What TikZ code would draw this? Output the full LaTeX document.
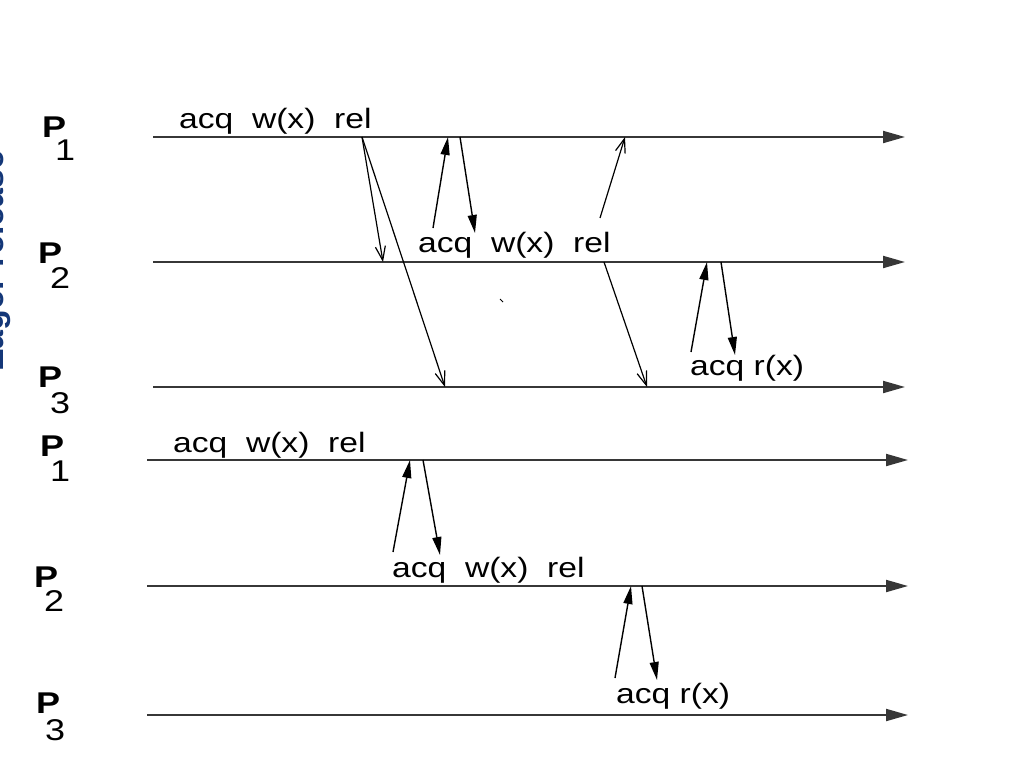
\documentclass[tikz,border=0pt]{standalone}
\usepackage{fontspec}
\setmainfont{Liberation Sans}
\newfontfamily\lbl[FakeStretch=1.2]{Liberation Sans}
\usetikzlibrary{arrows.meta}
\definecolor{navy}{RGB}{20,55,120}
\definecolor{linegray}{RGB}{55,55,55}
\begin{document}
\begin{tikzpicture}[x=1pt,y=-1pt,
  proc/.style={draw=linegray, line width=2pt, -{Triangle[length=22pt,width=12pt]}},
  msgf/.style={draw=black, line width=1.4pt, -{Triangle[length=18pt,width=9pt]}},
  msgo/.style={draw=black, line width=1.2pt, -{Straight Barb[length=14pt,width=10pt]}},
  lab/.style={anchor=base west, inner sep=0pt, font=\lbl\fontsize{28}{28}\selectfont},
  pname/.style={anchor=base west, inner sep=0pt, font=\lbl\bfseries\fontsize{30}{30}\selectfont},
  pidx/.style={anchor=base west, inner sep=0pt, font=\lbl\fontsize{30}{30}\selectfont}]
\useasboundingbox (0,0) rectangle (1024,768);

% side title (clipped)
\node[rotate=90, anchor=base west, inner sep=0pt, text=navy,
      font=\bfseries\fontsize{34}{34}\selectfont] (title) at (4,372) {Eager release};

% ---------- top group ----------
\coordinate (a1s) at (153,137); \coordinate (a1e) at (905,137);
\coordinate (a2s) at (153,262); \coordinate (a2e) at (905,262);
\coordinate (a3s) at (153,387); \coordinate (a3e) at (905,387);
\draw[proc] (a1s) -- (a1e);
\draw[proc] (a2s) -- (a2e);
\draw[proc] (a3s) -- (a3e);

\node[pname] (ap1) at (42,137) {P}; \node[pidx] (ap1i) at (55,160) {1};
\node[pname] (ap2) at (38,263) {P}; \node[pidx] (ap2i) at (50,288) {2};
\node[pname] (ap3) at (38,387) {P}; \node[pidx] (ap3i) at (50,413) {3};

\node[lab] (at1) at (179,128) {acq~~w(x)~~rel};
\node[lab] (at2) at (418,252) {acq~~w(x)~~rel};
\node[lab] (at3) at (690,375) {acq r(x)};

\coordinate (rel1) at (362,137);
\coordinate (m1e) at (383,262);
\coordinate (m2e) at (445,387);
\draw[msgo] (rel1) -- (m1e);
\draw[msgo] (rel1) -- (m2e);

\coordinate (m3s) at (433,228); \coordinate (m3e) at (448,137);
\coordinate (m4s) at (460,137); \coordinate (m4e) at (475,233);
\draw[msgf] (m3s) -- (m3e);
\draw[msgf] (m4s) -- (m4e);

\coordinate (m5s) at (600,218); \coordinate (m5e) at (625,137);
\coordinate (m6s) at (604,262); \coordinate (m6e) at (647,387);
\draw[msgo] (m5s) -- (m5e);
\draw[msgo] (m6s) -- (m6e);

\coordinate (m7s) at (691,352); \coordinate (m7e) at (707,262);
\coordinate (m8s) at (721,262); \coordinate (m8e) at (735,355);
\draw[msgf] (m7s) -- (m7e);
\draw[msgf] (m8s) -- (m8e);

\draw[line width=1pt] (500,299) -- (503,302);

% ---------- bottom group ----------
\coordinate (b1s) at (147,460); \coordinate (b1e) at (908,460);
\coordinate (b2s) at (147,586); \coordinate (b2e) at (908,586);
\coordinate (b3s) at (147,715); \coordinate (b3e) at (908,715);
\draw[proc] (b1s) -- (b1e);
\draw[proc] (b2s) -- (b2e);
\draw[proc] (b3s) -- (b3e);

\node[pname] (bp1) at (40,456) {P}; \node[pidx] (bp1i) at (50,481) {1};
\node[pname] (bp2) at (34,587) {P}; \node[pidx] (bp2i) at (44,611) {2};
\node[pname] (bp3) at (36,713) {P}; \node[pidx] (bp3i) at (45,740) {3};

\node[lab] (bt1) at (173,452) {acq~~w(x)~~rel};
\node[lab] (bt2) at (392,577) {acq~~w(x)~~rel};
\node[lab] (bt3) at (616,703) {acq r(x)};

\coordinate (f1s) at (393,552); \coordinate (f1e) at (410,460);
\coordinate (f2s) at (423,460); \coordinate (f2e) at (440,555);
\coordinate (f3s) at (615,678); \coordinate (f3e) at (631,586);
\coordinate (f4s) at (642,586); \coordinate (f4e) at (657,680);
\draw[msgf] (f1s) -- (f1e);
\draw[msgf] (f2s) -- (f2e);
\draw[msgf] (f3s) -- (f3e);
\draw[msgf] (f4s) -- (f4e);
\end{tikzpicture}
\end{document}
